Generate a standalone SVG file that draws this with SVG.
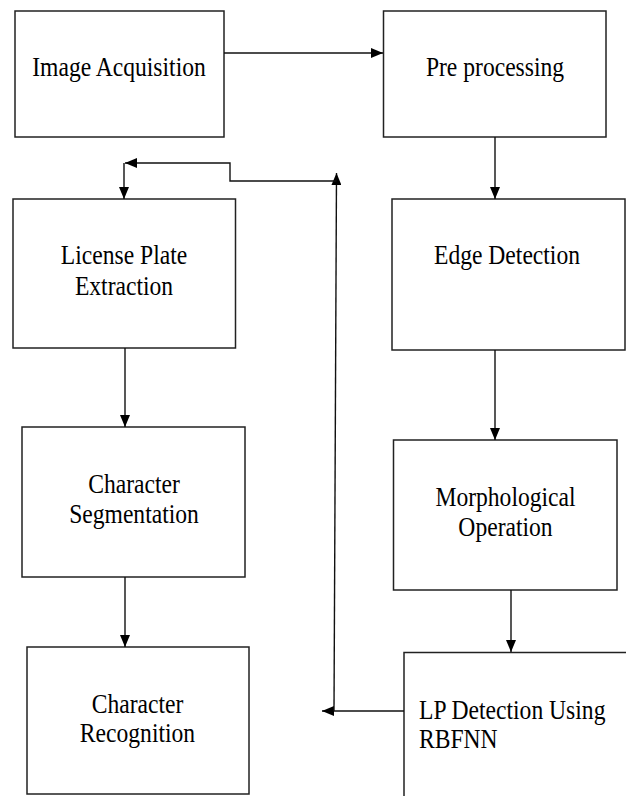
<svg xmlns="http://www.w3.org/2000/svg" width="626" height="796" viewBox="0 0 626 796">
<defs>
<style>
.box{fill:#fff;stroke:#222;stroke-width:1.5}
text{font-family:'Times New Roman','Liberation Serif',Tinos,'DejaVu Serif',serif;font-size:26.5px;fill:#000}
.lbl{text-anchor:middle}
.lbl-l{text-anchor:start}
.con{fill:none;stroke:#111;stroke-width:1.4}
</style>
<marker id="ah" markerUnits="userSpaceOnUse" markerWidth="12" markerHeight="10" refX="12" refY="5" orient="auto">
<path d="M0,0 L12,5 L0,10 z" fill="#000"/>
</marker>
</defs>
<rect width="626" height="796" fill="#fff"/>

<g id="image-acquisition">
<rect class="box" x="15" y="11" width="209" height="126"/>
<g transform="translate(119,76) scale(0.89,1)"><text class="lbl" x="0" y="0">Image Acquisition</text></g>
</g>

<g id="pre-processing">
<rect class="box" x="383.5" y="11" width="222.5" height="126"/>
<g transform="translate(495,76) scale(0.89,1)"><text class="lbl" x="0" y="0">Pre processing</text></g>
</g>

<g id="license-plate-extraction">
<rect class="box" x="13" y="199" width="222.5" height="149"/>
<g transform="translate(124,264) scale(0.89,1)"><text class="lbl" x="0" y="0">License Plate</text></g>
<g transform="translate(124,294.5) scale(0.89,1)"><text class="lbl" x="0" y="0">Extraction</text></g>
</g>

<g id="edge-detection">
<rect class="box" x="392" y="199" width="233" height="151"/>
<g transform="translate(507,264) scale(0.89,1)"><text class="lbl" x="0" y="0">Edge Detection</text></g>
</g>

<g id="character-segmentation">
<rect class="box" x="22" y="427" width="223" height="150"/>
<g transform="translate(134,492.5) scale(0.89,1)"><text class="lbl" x="0" y="0">Character</text></g>
<g transform="translate(134,522.5) scale(0.89,1)"><text class="lbl" x="0" y="0">Segmentation</text></g>
</g>

<g id="morphological-operation">
<rect class="box" x="393.5" y="440" width="223.5" height="150"/>
<g transform="translate(505.5,505.5) scale(0.89,1)"><text class="lbl" x="0" y="0">Morphological</text></g>
<g transform="translate(505.5,535.5) scale(0.89,1)"><text class="lbl" x="0" y="0">Operation</text></g>
</g>

<g id="character-recognition">
<rect class="box" x="27" y="647" width="222" height="147"/>
<g transform="translate(137.5,712.5) scale(0.89,1)"><text class="lbl" x="0" y="0">Character</text></g>
<g transform="translate(137.5,742) scale(0.89,1)"><text class="lbl" x="0" y="0">Recognition</text></g>
</g>

<g id="lp-detection">
<rect class="box" x="404" y="652.5" width="240" height="160"/>
<g transform="translate(419,719) scale(0.89,1)"><text class="lbl-l" x="0" y="0">LP Detection Using</text></g>
<g transform="translate(419,748) scale(0.89,1)"><text class="lbl-l" x="0" y="0">RBFNN</text></g>
</g>

<g id="connectors">
<line class="con" x1="224" y1="53" x2="383" y2="53" marker-end="url(#ah)"/>
<line class="con" x1="495" y1="137" x2="495" y2="199" marker-end="url(#ah)"/>
<line class="con" x1="495" y1="350" x2="495" y2="440" marker-end="url(#ah)"/>
<line class="con" x1="511" y1="590" x2="511" y2="652" marker-end="url(#ah)"/>
<line class="con" x1="125" y1="348" x2="125" y2="427" marker-end="url(#ah)"/>
<line class="con" x1="125" y1="577" x2="125" y2="647" marker-end="url(#ah)"/>
<line class="con" x1="404" y1="711" x2="322" y2="711" marker-end="url(#ah)"/>
<line class="con" x1="334" y1="711" x2="336.5" y2="173" marker-end="url(#ah)"/>
<polyline class="con" points="336.5,181 230,181 230,163 125,163" marker-end="url(#ah)"/>
<line class="con" x1="124" y1="163" x2="124" y2="199" marker-end="url(#ah)"/>
</g>
</svg>
